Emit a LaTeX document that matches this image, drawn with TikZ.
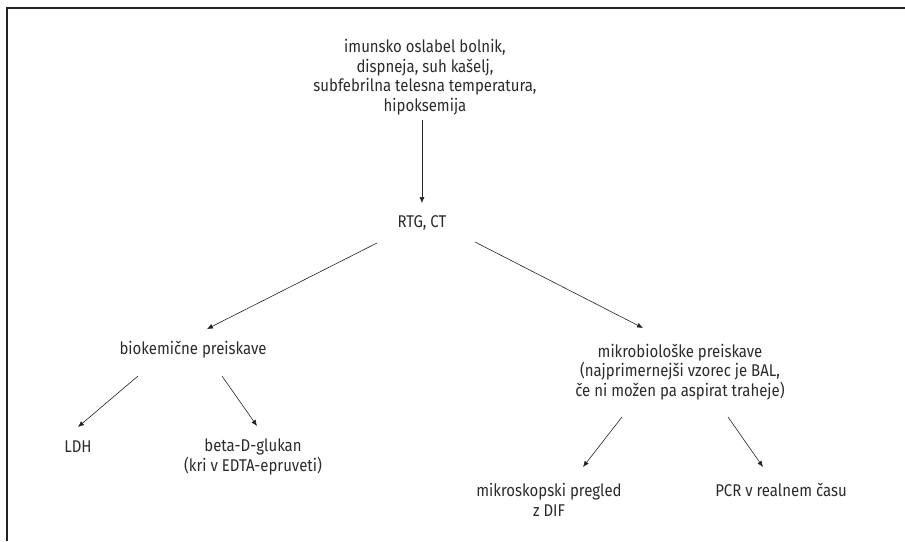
\documentclass[tikz,border=0pt]{standalone}
\usepackage{fontspec}
\setmainfont{Fira Sans}[FakeStretch=0.88]
\usetikzlibrary{arrows.meta}
\definecolor{txt}{HTML}{2B2B2B}
\definecolor{ln}{HTML}{222222}
\begin{document}
\begin{tikzpicture}[x=1pt,y=-1pt,
  lbl/.style={align=center,text=txt,font=\fontsize{17}{19.5}\selectfont,inner sep=0pt},
  arr/.style={-{Latex[length=6pt,width=5pt]},line width=0.6pt,draw=ln}]
\useasboundingbox (0,0) rectangle (905,541);
\draw[line width=1.4pt,ln] (7,541) -- (7,8) -- (905,8);

\node[lbl] (sym) at (425,77) {imunsko oslabel bolnik,\\dispneja, suh kašelj,\\subfebrilna telesna temperatura,\\hipoksemija};
\node[lbl] (rtg) at (422,223) {RTG, CT};
\node[lbl] (bio) at (193,350) {biokemične preiskave};
\node[lbl] (mik) at (680,372) {mikrobiološke preiskave\\(najprimernejši vzorec je BAL,\\če ni možen pa aspirat traheje)};
\node[lbl] (ldh) at (78,447) {LDH};
\node[lbl] (beta) at (253,457) {beta-D-glukan\\(kri v EDTA-epruveti)};
\node[lbl] (mikr) at (549,500) {mikroskopski pregled\\z DIF};
\node[lbl] (pcr) at (781,490) {PCR v realnem času};

\draw[arr] ([shift={(-3,43)}]sym.center) -- ([shift={(0,-20)}]rtg.center);
\draw[arr] ([shift={(-45,20)}]rtg.center) -- ([shift={(14,-21)}]bio.center);
\draw[arr] ([shift={(53,19)}]rtg.center) -- ([shift={(-37,-44)}]mik.center);
\draw[arr] ([shift={(-55,26)}]bio.center) -- ([shift={(0,-20)}]ldh.center);
\draw[arr] ([shift={(29,26)}]bio.center) -- ([shift={(4,-31)}]beta.center);
\draw[arr] ([shift={(-58,45)}]mik.center) -- ([shift={(34,-33)}]mikr.center);
\draw[arr] ([shift={(48,45)}]mik.center) -- ([shift={(-18,-23)}]pcr.center);
\end{tikzpicture}
\end{document}
